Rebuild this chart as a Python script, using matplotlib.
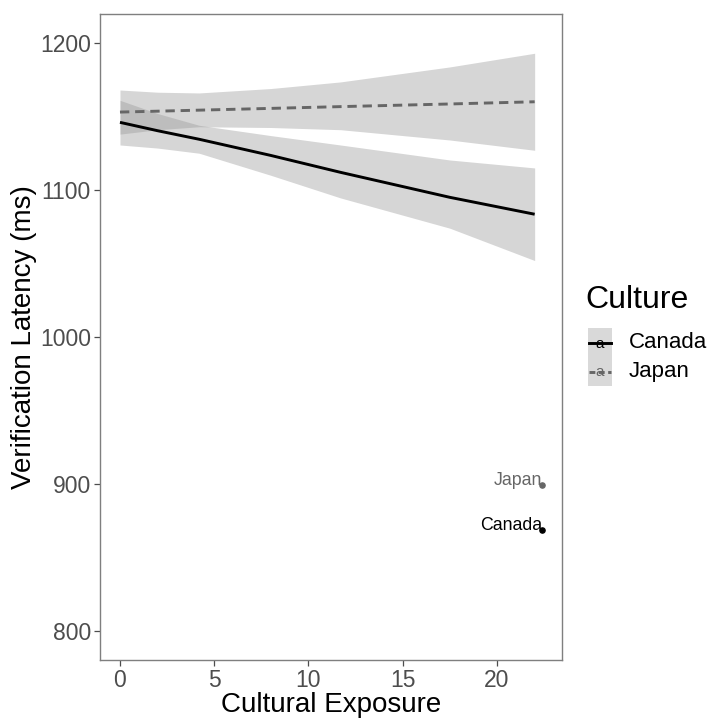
import matplotlib.pyplot as plt
from matplotlib.patches import Rectangle
from matplotlib.lines import Line2D

plt.rcParams["font.family"] = ["Liberation Sans", "DejaVu Sans"]

# fitted lines and confidence bands, read at a few exposure values
exposure = [0, 2, 4.2, 8, 11.7, 17.5, 22]
canada_fit = [1146, 1140.3, 1134.5, 1123.5, 1112, 1095, 1083.5]
canada_lo = [1130.6, 1128.5, 1125, 1110, 1094.6, 1074, 1052]
canada_hi = [1161, 1152, 1144, 1137, 1130.6, 1120.4, 1115]
japan_fit = [1153, 1153.6, 1154.3, 1155.5, 1156.7, 1158.5, 1160]
japan_lo = [1138, 1141, 1143, 1142.5, 1141, 1134, 1127]
japan_hi = [1168, 1166.5, 1166, 1169, 1173.5, 1183.7, 1193]

# labelled end points
point_names = ["Japan", "Canada"]
point_x = [22.4, 22.4]
point_y = [899, 869]
point_colours = ["#666666", "black"]

grey_axis = "#4d4d4d"

fig = plt.figure(figsize=(7.10, 7.21), dpi=100)
ax = fig.add_axes([100 / 710, 61 / 721, 462 / 710, 646 / 721])

ax.fill_between(exposure, canada_lo, canada_hi, color="#999999", alpha=0.4, lw=0)
ax.fill_between(exposure, japan_lo, japan_hi, color="#999999", alpha=0.4, lw=0)
ax.plot(exposure, canada_fit, color="black", lw=2.1, solid_capstyle="butt")
ax.plot(exposure, japan_fit, color="#666666", lw=2.1, dashes=(3.2, 2))

for name, x, y, c in zip(point_names, point_x, point_y, point_colours):
    ax.scatter([x], [y], s=14, color=c, zorder=3)
    ax.text(x, y, name, ha="right", va="baseline", fontsize=12.8, color=c)

ax.set_xlim(-1.06, 23.45)
ax.set_ylim(780.3, 1219.7)
ax.set_xticks([0, 5, 10, 15, 20])
ax.set_yticks([800, 900, 1000, 1100, 1200])
ax.tick_params(labelsize=16.5, colors=grey_axis, length=4, width=0.9, pad=2.5)
for s in ax.spines.values():
    s.set_color("#7f7f7f")
    s.set_linewidth(1.0)
ax.set_xlabel("Cultural Exposure", fontsize=20, labelpad=0)
ax.set_ylabel("Verification Latency (ms)", fontsize=20, labelpad=2)

# legend drawn by hand so the keys look like ggplot's
def px(x, y):
    return x / 710, 1 - y / 721

fig.text(*px(585, 300), "Culture", fontsize=23, va="center", ha="left")
for i, (name, c, style) in enumerate([("Canada", "black", "-"), ("Japan", "#666666", "--")]):
    top = 328 + i * 29
    fig.add_artist(Rectangle(px(588, top + 29), 24 / 710, 29 / 721,
                             transform=fig.transFigure, color="#d9d9d9", lw=0))
    yc = top + 14.5
    ln = Line2D([px(589, yc)[0], px(611, yc)[0]], [px(589, yc)[1]] * 2,
                transform=fig.transFigure, color=c, lw=2.1)
    if style == "--":
        ln.set_dashes((2, 1.2))
    fig.add_artist(ln)
    fig.text(*px(600, yc + 1), "a", fontsize=11, color=c, ha="center", va="center")
    fig.text(*px(629, yc), name, fontsize=16, va="center", ha="left")

fig.savefig("out.png", dpi=100)
